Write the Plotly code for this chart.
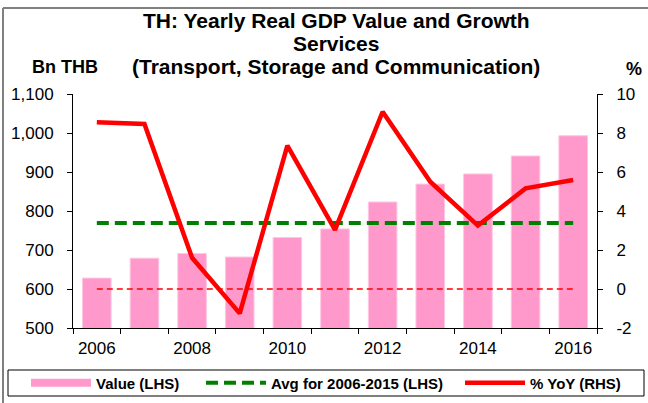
import numpy as np
import plotly.graph_objects as go

years = [2006, 2007, 2008, 2009, 2010, 2011, 2012, 2013, 2014, 2015, 2016]
value_bn_thb = [628, 679, 691, 682, 732, 754, 823, 869, 895, 941, 993]
yoy_pct = [8.55, 8.46, 1.6, -1.25, 7.35, 3.03, 9.09, 5.5, 3.25, 5.16, 5.59]
avg_value = float(np.mean([v for y, v in zip(years, value_bn_thb) if y <= 2015]))
zero_ref = [0] * len(years)

x_labels = [2006, 2008, 2010, 2012, 2014, 2016]
left_ticks = [500, 600, 700, 800, 900, 1000, 1100]
right_ticks = [-2, 0, 2, 4, 6, 8, 10]

FONT = "Liberation Sans, Arial, sans-serif"
PINK = "#FF99CC"
GREEN = "#008000"
RED = "#FF0000"

W, H = 648, 403
L, R, T, B = 73, 51, 94, 75
pw, ph = W - L - R, H - T - B


def px(xp):
    return (xp - L) / pw


def py(yp):
    return (H - B - yp) / ph


fig = go.Figure()

fig.add_trace(go.Bar(
    x=years, y=value_bn_thb, marker=dict(color=PINK, line=dict(color="#FFC6E2", width=1)),
    width=0.6, showlegend=False, yaxis="y", name="Value (LHS)"))

# legend-only swatch for the bars
fig.add_trace(go.Scatter(
    x=[None], y=[None], mode="lines", line=dict(color=PINK, width=8),
    name="Value (LHS)", yaxis="y", legend="legend"))

fig.add_trace(go.Scatter(
    x=years, y=[avg_value] * len(years), mode="lines",
    line=dict(color=GREEN, width=4, dash="12px,6px"),
    name="Avg for 2006-2015 (LHS)", yaxis="y", legend="legend2"))

fig.add_trace(go.Scatter(
    x=years, y=zero_ref, mode="lines",
    line=dict(color=RED, width=1.5, dash="6px,4px"),
    showlegend=False, yaxis="y2", hoverinfo="skip"))

fig.add_trace(go.Scatter(
    x=years, y=yoy_pct, mode="lines",
    line=dict(color=RED, width=4.5),
    name="% YoY (RHS)", yaxis="y2", legend="legend3"))

axis_font = dict(family=FONT, size=17, color="black")
legend_font = dict(family=FONT, size=15, color="black", weight="bold")


def legend_at(text_x):
    return dict(orientation="h", x=px(text_x - 72), y=py(383), xanchor="left", yanchor="middle",
                bgcolor="rgba(0,0,0,0)", borderwidth=0, font=legend_font, itemwidth=60)


fig.update_layout(
    width=W, height=H,
    margin=dict(l=L, r=R, t=T, b=B, pad=0, autoexpand=False),
    paper_bgcolor="white", plot_bgcolor="white",
    xaxis=dict(
        range=[2005.5, 2016.5], tickmode="array", tickvals=x_labels,
        ticks="outside", ticklen=0, tickfont=axis_font, ticklabelstandoff=5,
        showline=True, linecolor="black", linewidth=1, showgrid=False, zeroline=False,
        minor=dict(tick0=2005.5, dtick=1, ticks="outside", ticklen=5, tickcolor="black", showgrid=False),
    ),
    yaxis=dict(
        range=[500, 1100], tickmode="array", tickvals=left_ticks, tickformat=",",
        ticks="outside", ticklen=5, tickcolor="black", tickfont=axis_font, ticklabelstandoff=10,
        showline=True, linecolor="black", linewidth=1, showgrid=False, zeroline=False,
    ),
    yaxis2=dict(
        range=[-2, 10], tickmode="array", tickvals=right_ticks,
        ticktext=[str(v) for v in right_ticks], overlaying="y", side="right",
        ticks="outside", ticklen=5, tickcolor="black", tickfont=axis_font, ticklabelstandoff=10,
        showline=True, linecolor="black", linewidth=1, showgrid=False, zeroline=False,
    ),
    legend=legend_at(98),
    legend2=legend_at(273),
    legend3=legend_at(532),
    showlegend=True,
)

# legend frame
fig.add_shape(type="rect", xref="paper", yref="paper", x0=px(8), x1=px(644), y0=py(370), y1=py(396),
              line=dict(color="black", width=1), fillcolor="rgba(0,0,0,0)", layer="below")

title_font = dict(family=FONT, size=21, color="black", weight="bold")
for txt, yc in [("TH: Yearly Real GDP Value and Growth", 20),
                ("Services", 43),
                ("(Transport, Storage and Communication)", 66)]:
    fig.add_annotation(text=txt, x=px(336), y=py(yc), xref="paper", yref="paper",
                       xanchor="center", yanchor="middle", showarrow=False, font=title_font)

fig.add_annotation(text="Bn THB", x=px(65), y=py(67), xref="paper", yref="paper",
                   xanchor="center", yanchor="middle", showarrow=False,
                   font=dict(family=FONT, size=18, color="black", weight="bold"))
fig.add_annotation(text="%", x=px(634), y=py(69), xref="paper", yref="paper",
                   xanchor="center", yanchor="middle", showarrow=False,
                   font=dict(family=FONT, size=18, color="black", weight="bold"))

# outer frame (top and left edges)
fig.add_shape(type="line", xref="paper", yref="paper", x0=px(3), x1=px(648), y0=py(8), y1=py(8),
              line=dict(color="#808080", width=2))
fig.add_shape(type="line", xref="paper", yref="paper", x0=px(3), x1=px(3), y0=py(8), y1=py(403),
              line=dict(color="#808080", width=2))

fig.write_html("out.html", config={"displayModeBar": False},
               post_script="document.body.style.margin='0';document.body.style.overflow='hidden';")
